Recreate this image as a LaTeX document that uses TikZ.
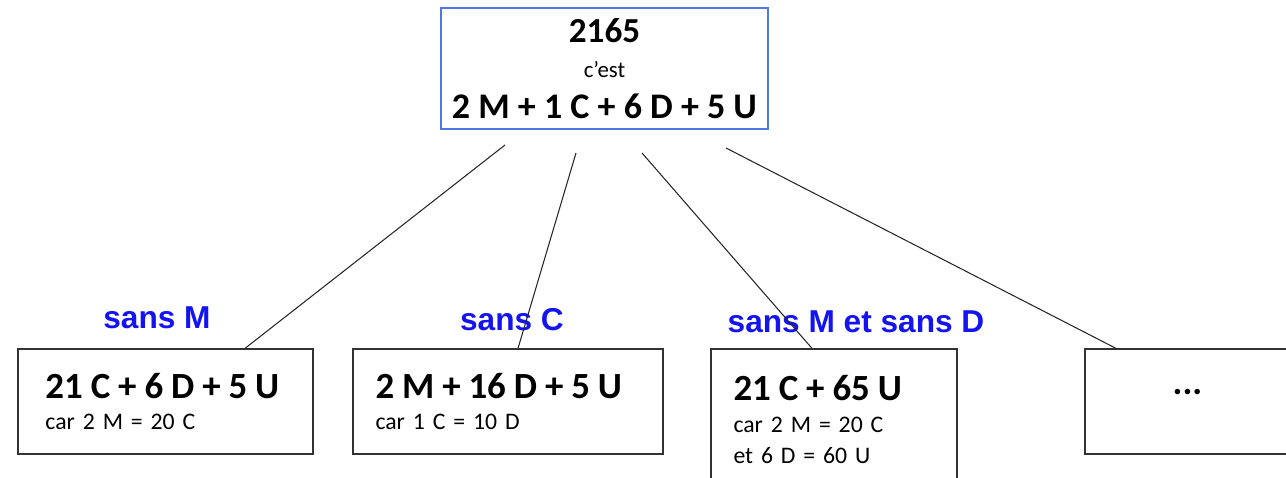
\documentclass[tikz,border=0pt]{standalone}
\usepackage{fontspec}
\setmainfont{Carlito}
\newfontfamily\labelfont{Liberation Sans}
\usetikzlibrary{positioning}
\definecolor{boxblue}{RGB}{77,121,224}
\definecolor{labelblue}{RGB}{20,20,240}
\newcommand\sumfont{\fontsize{21}{18}\selectfont\bfseries}
\newcommand\notefont{\fontsize{13.5}{18}\selectfont}
\tikzset{
numbox/.style={draw=boxblue, line width=0.7pt, minimum width=6.54cm, minimum height=2.42cm, align=center, inner sep=0pt, font=\fontsize{13}{20}\selectfont}, % box of the whole number
partbox/.style={draw=black!80, line width=0.7pt, minimum height=2.1cm, align=left, text width=#1, inner xsep=0.45cm, inner ysep=0pt, font=\notefont}, % box of one decomposition
partbox/.default=5cm,
sans/.style={text=labelblue, font=\labelfont\fontsize{18}{20}\selectfont\bfseries}, % blue label over a box
link/.style={draw=black!85, line width=0.6pt}, % line from the number to a box
}

\begin{document}
\begin{tikzpicture}
  \useasboundingbox (0,0) rectangle (25.72,9.56);
  \node[numbox] (total) at (12.09,8.19) {{\fontsize{20}{20}\selectfont\bfseries 2165}\\ c'est\\[3pt] {\fontsize{20.5}{20}\selectfont\bfseries 2 M + 1 C + 6 D + 5 U}};

  \node[partbox=4.8cm, inner xsep=0.55cm] (b1) at (3.31,1.53) {{\sumfont 21 C + 6 D + 5 U}\\ car 2 M = 20 C};
  \node[partbox=5.3cm] (b2) at (10.16,1.53) {{\sumfont 2 M + 16 D + 5 U}\\ car 1 C = 10 D};
  \node[partbox=4.02cm, minimum height=2.82cm] (b3) at (16.68,1.17) {{\sumfont 21 C + 65 U}\\ car 2 M = 20 C\\ et 6 D = 60 U};
  \node[partbox=3.2cm, align=center, text height=0pt, text depth=8pt] (b4) at (23.75,1.53) {\sumfont ...};

  \node[sans] (l1) at (3.14,3.20) {sans M};
  \node[sans] (l2) at (10.24,3.16) {sans C};
  \node[sans] (l3) at (17.12,3.12) {sans M et sans D};

  \coordinate (s1) at (10.10,6.66);
  \coordinate (s2) at (11.52,6.50);
  \coordinate (s3) at (12.84,6.50);
  \coordinate (s4) at (14.52,6.60);

  \draw[link] (s1) -- ([xshift=1.59cm]b1.north);
  \draw[link] (s2) -- ([xshift=0.2cm]b2.north);
  \draw[link] (s3) -- ([xshift=-0.44cm]b3.north);
  \draw[link] (s4) -- ([xshift=-1.43cm]b4.north);

\end{tikzpicture}
\end{document}
